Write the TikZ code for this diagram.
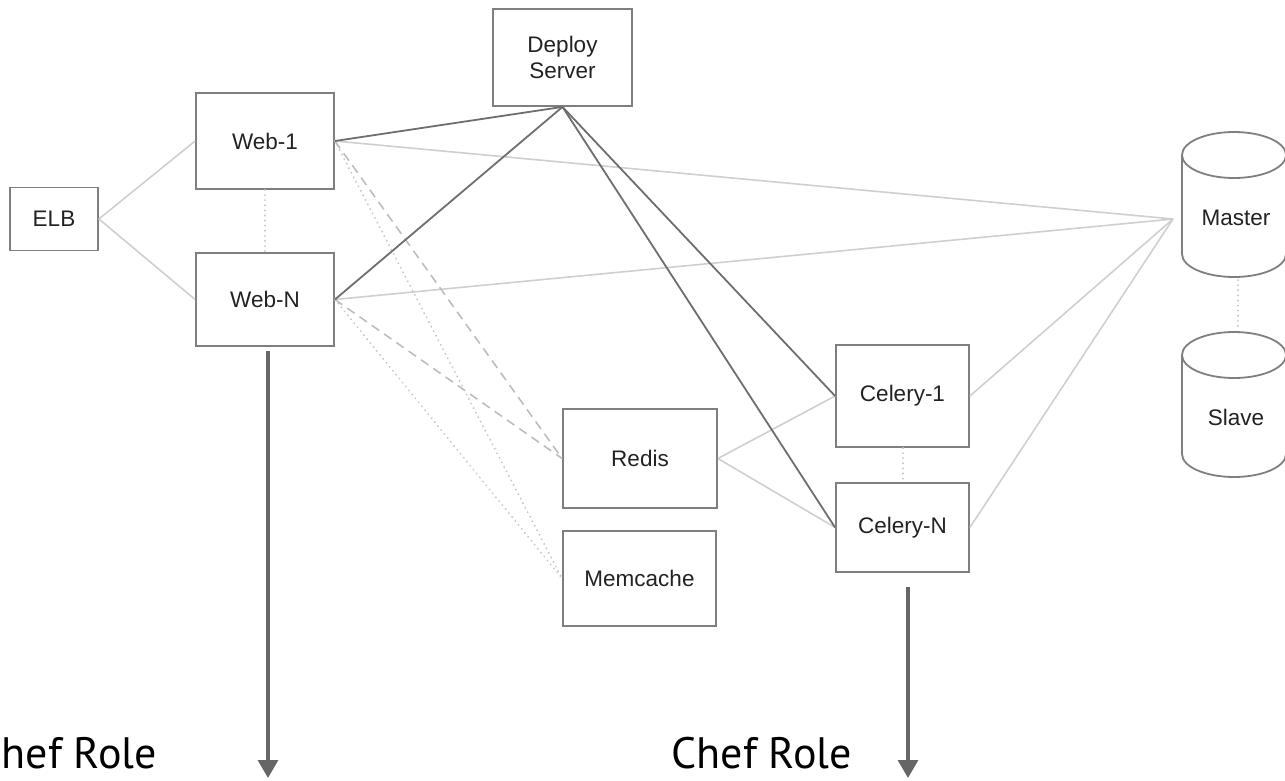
\documentclass[tikz,border=0pt]{standalone}
\usepackage{fontspec}
\setmainfont{Liberation Sans}
\newfontfamily\cheffont{PT Sans}
\usetikzlibrary{arrows.meta}
\definecolor{boxline}{HTML}{7F7F7F}
\definecolor{darkline}{HTML}{6E6E6E}
\definecolor{lightline}{HTML}{CFCFCF}
\definecolor{dashline}{HTML}{BDBDBD}
\definecolor{dotline}{HTML}{C4C4C4}
\definecolor{txt}{HTML}{222222}
\definecolor{arrowc}{HTML}{666666}
\begin{document}
\begin{tikzpicture}[x=1pt,y=1pt,
  box/.style={draw=boxline,line width=1.8pt,inner sep=0pt,font=\fontsize{22.5}{26}\selectfont,text=txt,align=center},
  cyl/.style={draw=boxline,line width=1.8pt},
  lbl/.style={inner sep=0pt,font=\fontsize{22.5}{26}\selectfont,text=txt},
  dk/.style={draw=darkline,line width=1.8pt},
  lt/.style={draw=lightline,line width=1.6pt},
  dsh/.style={draw=dashline,line width=1.6pt,dash pattern=on 9pt off 6pt},
  dotl/.style={draw=dotline,line width=2pt,line cap=round,dash pattern=on 0.1pt off 5pt},
  bigarrow/.style={draw=arrowc,line width=3.2pt,-{Triangle[width=20pt,length=18pt]}},
  chef/.style={anchor=base east,inner sep=0pt,font=\cheffont\fontsize{44}{50}\selectfont,text=black}]
\useasboundingbox (0,0) rectangle (1285,-780);
% boxes
\node[box,minimum width=88pt,minimum height=63pt] (elb) at (54,-219) {ELB};
\node[box,minimum width=138pt,minimum height=96pt] (web1) at (265,-141) {Web-1};
\node[box,minimum width=138pt,minimum height=93pt] (webn) at (265,-299.5) {Web-N};
\node[box,minimum width=139pt,minimum height=97pt] (deploy) at (562.5,-57.5) {Deploy\\Server};
\node[box,minimum width=154pt,minimum height=99pt] (redis) at (640,-458.5) {Redis};
\node[box,minimum width=153pt,minimum height=95pt] (memc) at (639.5,-578.5) {Memcache};
\node[box,minimum width=133pt,minimum height=102pt] (cel1) at (902.5,-396) {Celery-1};
\node[box,minimum width=133pt,minimum height=89pt] (celn) at (902.5,-527.5) {Celery-N};
% cylinders
\draw[cyl] (1182,-155) -- (1182,-254) arc[start angle=180,end angle=360,x radius=52pt,y radius=23pt] -- (1286,-155);
\draw[cyl] (1234,-155) ellipse [x radius=52pt,y radius=23pt];
\draw[cyl] (1182,-355) -- (1182,-454) arc[start angle=180,end angle=360,x radius=52pt,y radius=23pt] -- (1286,-355);
\draw[cyl] (1234,-355) ellipse [x radius=52pt,y radius=23pt];
\node[lbl] (master) at (1236,-218) {Master};
\node[lbl] (slave) at (1236,-417) {Slave};
\coordinate (mconn) at (1173,-219);
\coordinate (mbot) at (1238,-280);
\coordinate (stop) at (1238,-330);
% connectors
\draw[lt] (elb.east) -- (web1.west);
\draw[lt] (elb.east) -- (webn.west);
\draw[dotl] (web1.south) -- (webn.north);
\draw[lt] (web1.east) -- (mconn);
\draw[lt] (webn.east) -- (mconn);
\draw[dsh] (web1.east) -- (redis.west);
\draw[dsh] (webn.east) -- (redis.west);
\draw[dotl] (web1.east) -- (memc.west);
\draw[dotl] (webn.east) -- (memc.west);
\draw[lt] (redis.east) -- (cel1.west);
\draw[lt] (redis.east) -- (celn.west);
\draw[lt] (cel1.east) -- (mconn);
\draw[lt] (celn.east) -- (mconn);
\draw[dotl] (cel1.south) -- (celn.north);
\draw[dotl] (mbot) -- (stop);
\draw[dk] (web1.east) -- (deploy.south);
\draw[dk] (webn.east) -- (deploy.south);
\draw[dk] (deploy.south) -- (cel1.west);
\draw[dk] (deploy.south) -- (celn.west);
% chef role arrows
\coordinate (a1s) at (268,-351);
\coordinate (a1e) at (268,-778);
\coordinate (a2s) at (908,-587);
\coordinate (a2e) at (908,-778);
\draw[bigarrow] (a1s) -- (a1e);
\draw[bigarrow] (a2s) -- (a2e);
\node[chef] (chef1) at (157,-768) {Chef Role};
\node[chef] (chef2) at (852,-768) {Chef Role};
\end{tikzpicture}
\end{document}
